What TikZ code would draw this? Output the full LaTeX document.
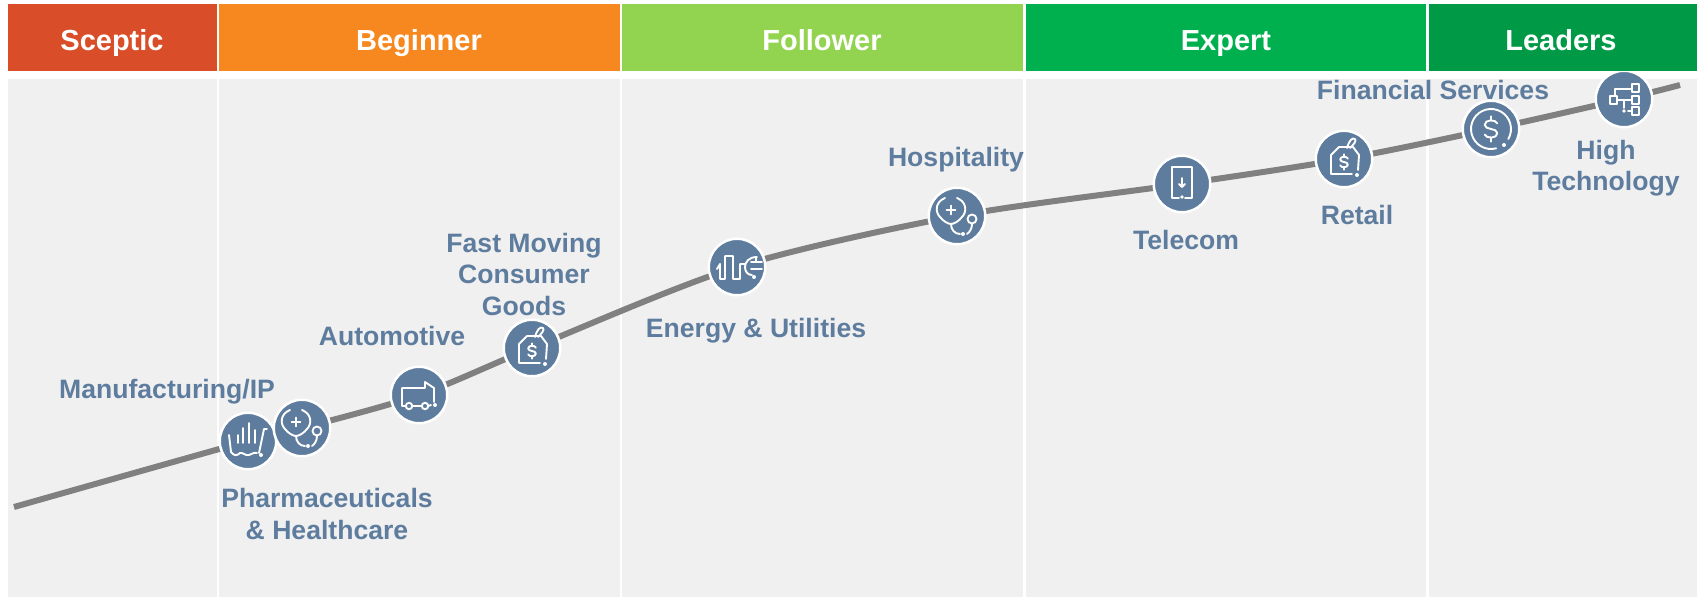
\documentclass[tikz,border=0pt]{standalone}
\usepackage{fontspec}
\setmainfont{Liberation Sans}
\usetikzlibrary{backgrounds}
\definecolor{scepticc}{HTML}{D94E28}
\definecolor{beginnerc}{HTML}{F7881F}
\definecolor{followerc}{HTML}{92D34F}
\definecolor{expertc}{HTML}{00B04F}
\definecolor{leaderc}{HTML}{009A46}
\definecolor{panelc}{HTML}{F0F0F0}
\definecolor{slatec}{HTML}{5E7C9E}
\definecolor{curvec}{HTML}{808080}
\tikzset{
  x=1pt,y=-1pt,
  head/.style={anchor=base,inner sep=0pt,font=\fontsize{29}{34}\selectfont\bfseries,text=white},
  lab/.style={anchor=center,inner sep=0pt,align=center,text=slatec,font=\fontsize{26.6}{31.5}\selectfont\bfseries},
  bub/.style={circle,fill=slatec,draw=white,line width=2.5pt,minimum size=56.5pt,inner sep=0pt,outer sep=0pt},
  ico/.style={draw=white,line width=1.9pt,line cap=round,line join=round},
  dotw/.style={fill=white,draw=none},
  dollaric/.pic={
    \draw[ico] (4.5,-4) .. controls (3.5,-7) and (-4.5,-7) .. (-4.5,-3) .. controls (-4.5,1) and (4.5,-1) .. (4.5,3) .. controls (4.5,7) and (-3.5,7) .. (-4.5,4);
    \draw[ico] (0,-9)--(0,-6.5) (0,6.5)--(0,9);
  },
  carticon/.pic={
    \draw[ico] (-19,-6)--(-17,11) .. controls (-14,15) and (-11,15) .. (-8,12) .. controls (-5,11) and (-3,15) .. (1,14) .. controls (4,14) and (4,11) .. (9,12);
    \draw[ico] (11,12)--(16,-12)--(19,-12);
    \draw[ico] (-10,-6)--(-10,2) (-5,-13)--(-5,2) (1,-18)--(1,2) (7,-11)--(7,2);
    \fill[dotw] (13,14) circle (2);
  },
  stethicon/.pic={
    \draw[ico] (-12,-18) .. controls (-22,-14) and (-22,-4) .. (-17,1) .. controls (-14,5) and (-9,8) .. (-6,8) .. controls (-3,8) and (2,5) .. (5,1) .. controls (10,-4) and (10,-14) .. (0,-18);
    \draw[ico] (-10.5,-6)--(-1.5,-6) (-6,-10.5)--(-6,-1.5);
    \draw[ico] (-6,8) .. controls (-6,14) and (-2,18) .. (3,18);
    \fill[dotw] (6,18) circle (2);
    \draw[ico] (10,18) .. controls (13,16) and (15,12) .. (15,8);
    \draw[ico] (15,3) circle (4.5);
  },
  truckicon/.pic={
    \draw[ico] (-14,11)--(-17,11)--(-17,-7)--(6,-7)--(6,-13)--(15,-7)--(15,7);
    \draw[ico] (-10,11) circle (3.2) (6,11) circle (3.2);
    \draw[ico] (-7,11)--(3,11) (9,11)--(12,10);
    \fill[dotw] (16,10) circle (2);
  },
  tagicon/.pic={
    \draw[ico] (8,15)--(-13,15)--(-13,-4)--(-5,-12)--(9,-12)--(15,-4)--(14,11);
    \draw[ico] (3,-11) .. controls (5,-18) and (8,-22) .. (11,-20) .. controls (13,-18) and (9,-14) .. (6,-11);
    \fill[dotw] (13,16) circle (2);
    \pic[scale=.85] at (0,3) {dollaric};
  },
  plugicon/.pic={
    \draw[ico] (-20,2)--(-17,-3)--(-17,12)--(-12,12)--(-12,-11)--(-4,-11)--(-4,12)--(3,12)--(3,-3)--(8,-3);
    \draw[ico] (20,-10) .. controls (12,-10) and (8,-5) .. (8,0) .. controls (8,5) and (11,8) .. (15,8);
    \draw[ico] (14,-5)--(25,-5) (14,2)--(25,2) (19,-10)--(19,-5);
    \fill[dotw] (17,10) circle (2);
  },
  phoneicon/.pic={
    \draw[ico] (-3,14)--(-10,14)--(-10,-17)--(10,-17)--(10,14)--(3,14);
    \draw[ico] (0,-6)--(0,3) (-3,0)--(0,3)--(3,0);
    \fill[dotw] (0,13) circle (1.8);
  },
  coinicon/.pic={
    \draw[ico] (0,0) ++(75:20) arc[start angle=75,end angle=390,radius=20];
    \fill[dotw] (13,16) circle (2);
    \pic[scale=1.4] at (0,0) {dollaric};
  },
  orgicon/.pic={
    \draw[ico] (8,-15) rectangle (15,-7) (8,-3) rectangle (15,5) (8,8) rectangle (15,16) (-14,-3) rectangle (-7,5);
    \draw[ico] (8,-10)--(-9,-10)--(-9,-3) (-7,1)--(8,1) (0,1)--(0,9) (4,12)--(8,12);
    \fill[dotw] (0,12) circle (1.8);
  }
}
\begin{document}
\begin{tikzpicture}
\useasboundingbox (0,0) rectangle (1698,597);
% bubbles
\node[bub] (nman) at (248,441) {};
\node[bub] (npha) at (302,428) {};
\node[bub] (naut) at (419,395) {};
\node[bub] (nfmc) at (532,348) {};
\node[bub] (nene) at (737,267) {};
\node[bub] (nhos) at (957,216) {};
\node[bub] (ntel) at (1182,184) {};
\node[bub] (nret) at (1344,159) {};
\node[bub] (nfin) at (1491,129) {};
\node[bub] (nhig) at (1624,99) {};
\coordinate (cstart) at (14,507);
\coordinate (cend) at (1680,85);
\begin{pgfonlayer}{background}
  \fill[white] (0,0) rectangle (1698,597);
  \foreach \a/\b in {7.5/216.5,218.7/620,622/1023,1025.5/1426,1428.5/1697}{
    \fill[panelc] (\a,79) rectangle (\b,597);
  }
  \draw[curvec,line width=6pt] plot[smooth,tension=.5] coordinates {(cstart) (nman.center) (npha.center) (naut.center) (nfmc.center) (nene.center) (nhos.center) (ntel.center) (nret.center) (nfin.center) (nhig.center) (cend)};
\end{pgfonlayer}
% header bands
\path[fill=scepticc] (7.5,4) rectangle (216.5,71);
\path[fill=beginnerc] (218.7,4) rectangle (620,71);
\path[fill=followerc] (622,4) rectangle (1023,71);
\path[fill=expertc] (1025.5,4) rectangle (1426,71);
\path[fill=leaderc] (1428.5,4) rectangle (1697,71);
\node[head] (hsce) at (112,50) {Sceptic};
\node[head] (hbeg) at (419,50) {Beginner};
\node[head] (hfol) at (822,50) {Follower};
\node[head] (hexp) at (1226,50) {Expert};
\node[head] (hlea) at (1561,50) {Leaders};
% icons
\pic at (nman) {carticon};
\pic at (npha) {stethicon};
\pic at (naut) {truckicon};
\pic at (nfmc) {tagicon};
\pic at (nene) {plugicon};
\pic at (nhos) {stethicon};
\pic at (ntel) {phoneicon};
\pic at (nret) {tagicon};
\pic at (nfin) {coinicon};
\pic at (nhig) {orgicon};
% labels
\node[lab] (lman) at (167,392) {Manufacturing/IP};
\node[lab] (lpha) at (327,514) {Pharmaceuticals\\\& Healthcare};
\node[lab] (laut) at (392,336) {Automotive};
\node[lab] (lfmc) at (524,274) {Fast Moving\\Consumer\\Goods};
\node[lab] (lene) at (756,331) {Energy \& Utilities};
\node[lab] (lhos) at (956,160) {Hospitality};
\node[lab] (ltel) at (1186,240) {Telecom};
\node[lab] (lret) at (1357,215) {Retail};
\node[lab] (lfin) at (1433,90) {Financial Services};
\node[lab] (lhig) at (1606,168) {High\\Technology};
\end{tikzpicture}
\end{document}
